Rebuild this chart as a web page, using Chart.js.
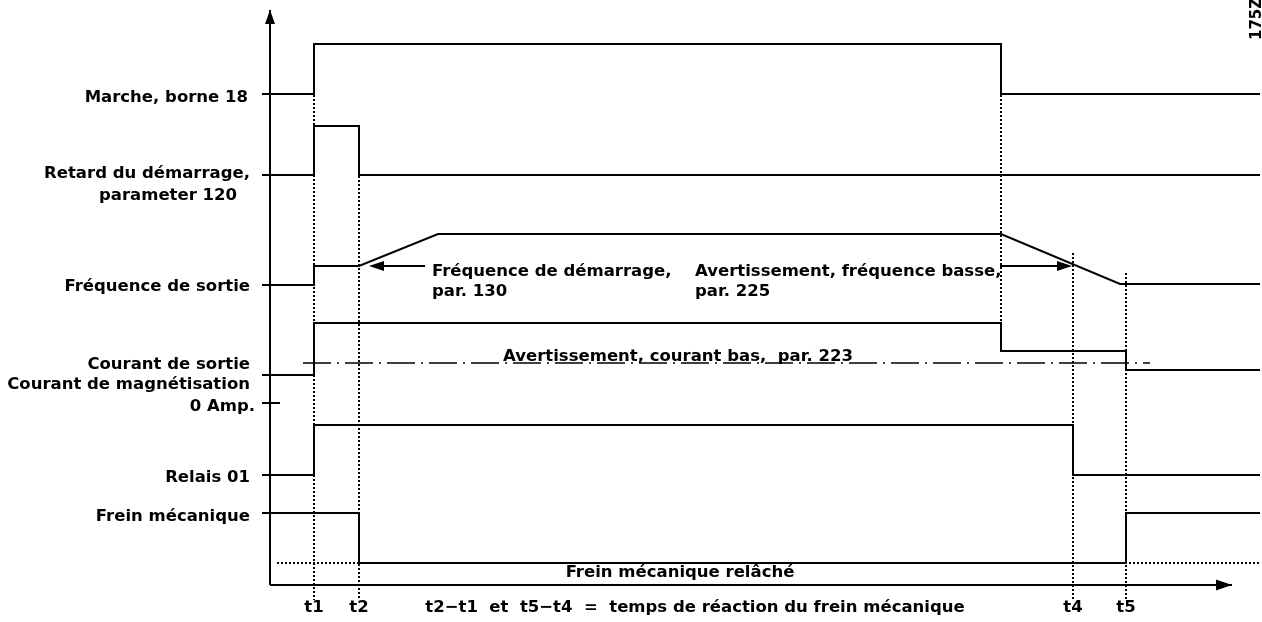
<!DOCTYPE html>
<html>
<head>
<meta charset="utf-8">
<script src="https://cdn.jsdelivr.net/npm/chart.js@4/dist/chart.umd.min.js"></script>
<style>
  html, body { margin: 0; padding: 0; background: #fff; }
  canvas { display: block; }
</style>
</head>
<body>
<canvas id="chart" width="1262" height="622"></canvas>
<script>
// time events (x) and signal levels (y)
const marcheT  = [-0.8, 4.4, 4.4, 73.1, 73.1, 99];
const marcheV  = [49.1, 49.1, 54.1, 54.1, 49.1, 49.1];

const retardT  = [-0.8, 4.4, 4.4, 8.9, 8.9, 99];
const retardV  = [41, 41, 45.9, 45.9, 41, 41];

const freqT    = [-0.8, 4.4, 4.4, 8.9, 16.8, 73.1, 85.0, 99];
const freqV    = [30, 30, 31.9, 31.9, 35.1, 35.1, 30.1, 30.1];

const courantT = [-0.8, 4.4, 4.4, 73.1, 73.1, 85.6, 85.6, 99];
const courantV = [21, 21, 26.2, 26.2, 23.4, 23.4, 21.5, 21.5];

const warnCourantT = [3.3, 88];
const warnCourantV = [22.2, 22.2];

const zeroAmpT = [-0.8, 1.0];
const zeroAmpV = [18.2, 18.2];

const relaisT  = [-0.8, 4.4, 4.4, 80.3, 80.3, 99];
const relaisV  = [11, 11, 16, 16, 11, 11];

const freinT   = [-0.8, 8.9, 8.9, 85.6, 85.6, 99];
const freinV   = [7.2, 7.2, 2.2, 2.2, 7.2, 7.2];

const freinRelT = [0.7, 99];
const freinRelV = [2.2, 2.2];

// vertical markers: time, top level, bottom level
const markerT    = [4.4, 8.9, 73.1, 80.3, 85.6];
const markerTop  = [49.0, 40.9, 49.0, 33.2, 31.2];
const markerBot  = [-1.5, -1.5, 26.2, -1.5, -1.5];

const tickLabels = ['t1', 't2', 't4', 't5'];
const tickTimes  = [4.4, 8.9, 80.3, 85.6];

const laneLabels = ['Marche, borne 18', 'Retard du démarrage,', 'parameter 120',
  'Fréquence de sortie', 'Courant de sortie', 'Courant de magnétisation', '0 Amp.',
  'Relais 01', 'Frein mécanique'];
const laneLabelY = [48.7, 41.1, 38.9, 29.8, 22.0, 20.0, 17.8, 10.7, 6.8];
const laneLabelX = [-2.2, -2.0, -3.3, -2.0, -2.0, -2.0, -1.5, -2.0, -2.0];

const noteTexts = ['Fréquence de démarrage,', 'par. 130', 'Avertissement, fréquence basse,',
  'par. 225'];
const noteX = [16.2, 16.2, 42.5, 42.5];
const noteY = [31.3, 29.3, 31.3, 29.3];

// arrows: [from x, to x (tip), level]
const arrowFrom = [15.5, 73.0];
const arrowTo   = [9.9, 80.2];
const arrowY    = [31.9, 31.9];

const line = (t, v, extra) => Object.assign({
  data: t.map((x, i) => ({ x: x, y: v[i] })),
  borderColor: '#000',
  borderWidth: 2,
  pointRadius: 0,
  fill: false,
  tension: 0,
  clip: false
}, extra || {});

const dotted = { borderWidth: 2, borderDash: [2, 2] };

var datasets = [
  line(marcheT, marcheV),
  line(retardT, retardV),
  line(freqT, freqV),
  line(courantT, courantV),
  line(warnCourantT, warnCourantV, { borderWidth: 1.5, borderDash: [28, 6, 2, 6] }),
  line(zeroAmpT, zeroAmpV),
  line(relaisT, relaisV),
  line(freinT, freinV),
  line(freinRelT, freinRelV, dotted),
  // axes
  line([0, 0], [0, 57.5], { borderWidth: 2 }),
  line([0, 96.2], [0, 0], { borderWidth: 2 })
];
markerT.forEach((t, i) => {
  datasets.push(line([t, t], [markerTop[i], markerBot[i]], dotted));
});

const FONT = 'bold 16.5px "DejaVu Sans"';

const textPlugin = {
  id: 'diagramText',
  afterDatasetsDraw(chart) {
    const c = chart.ctx;
    const xs = chart.scales.x, ys = chart.scales.y;
    const px = v => xs.getPixelForValue(v);
    const py = v => ys.getPixelForValue(v);
    c.save();
    c.fillStyle = '#000';
    c.strokeStyle = '#000';

    // arrowheads
    const head = (tx, ty, dx, dy, len, w) => {
      c.beginPath();
      c.moveTo(tx, ty);
      c.lineTo(tx - dx * len - dy * w, ty - dy * len - dx * w);
      c.lineTo(tx - dx * len + dy * w, ty - dy * len + dx * w);
      c.closePath();
      c.fill();
    };
    head(px(0), py(57.5), 0, -1, 14, 5);
    head(px(96.2), py(0), 1, 0, 16, 5.5);

    // annotation arrows
    c.lineWidth = 2;
    arrowFrom.forEach((f, i) => {
      const y = py(arrowY[i]);
      const dir = arrowTo[i] > f ? 1 : -1;
      c.beginPath();
      c.moveTo(px(f), y);
      c.lineTo(px(arrowTo[i]) - dir * 10, y);
      c.stroke();
      head(px(arrowTo[i]), y, dir, 0, 15, 5);
    });

    c.font = FONT;
    c.letterSpacing = '0px';
    c.textBaseline = 'middle';

    c.textAlign = 'right';
    laneLabels.forEach((s, i) => c.fillText(s, px(laneLabelX[i]), py(laneLabelY[i])));

    c.textAlign = 'left';
    noteTexts.forEach((s, i) => c.fillText(s, px(noteX[i]), py(noteY[i])));

    c.textAlign = 'center';
    c.fillText('Avertissement, courant bas,  par. 223', px(40.8), py(22.8));
    c.fillText('Frein mécanique relâché', px(41.0), py(1.2));
    c.fillText('t2\u2212t1  et  t5\u2212t4  =  temps de réaction du frein mécanique', px(42.5), py(-2.3));
    tickLabels.forEach((s, i) => c.fillText(s, px(tickTimes[i]), py(-2.3)));

    // drawing reference number, rotated in the corner
    c.translate(chart.chartArea.right + 1, chart.chartArea.top + 30);
    c.rotate(-Math.PI / 2);
    c.font = 'bold 15px "DejaVu Sans"';
    c.textAlign = 'left';
    c.textBaseline = 'alphabetic';
    c.fillText('175ZA', 0, 0);
    c.restore();
  }
};

var ctx = document.getElementById('chart').getContext('2d');
var chart = new Chart(ctx, {
  type: 'line',
  data: { datasets: datasets },
  options: {
    responsive: false,
    animation: false,
    devicePixelRatio: 1,
    layout: { padding: { left: 262, right: 2, top: 10, bottom: 37 } },
    scales: {
      x: { type: 'linear', min: -0.8, max: 99, display: false },
      y: { type: 'linear', min: 0, max: 57.5, display: false }
    },
    plugins: { legend: { display: false }, tooltip: { enabled: false } }
  },
  plugins: [textPlugin]
});
</script>
</body>
</html>
